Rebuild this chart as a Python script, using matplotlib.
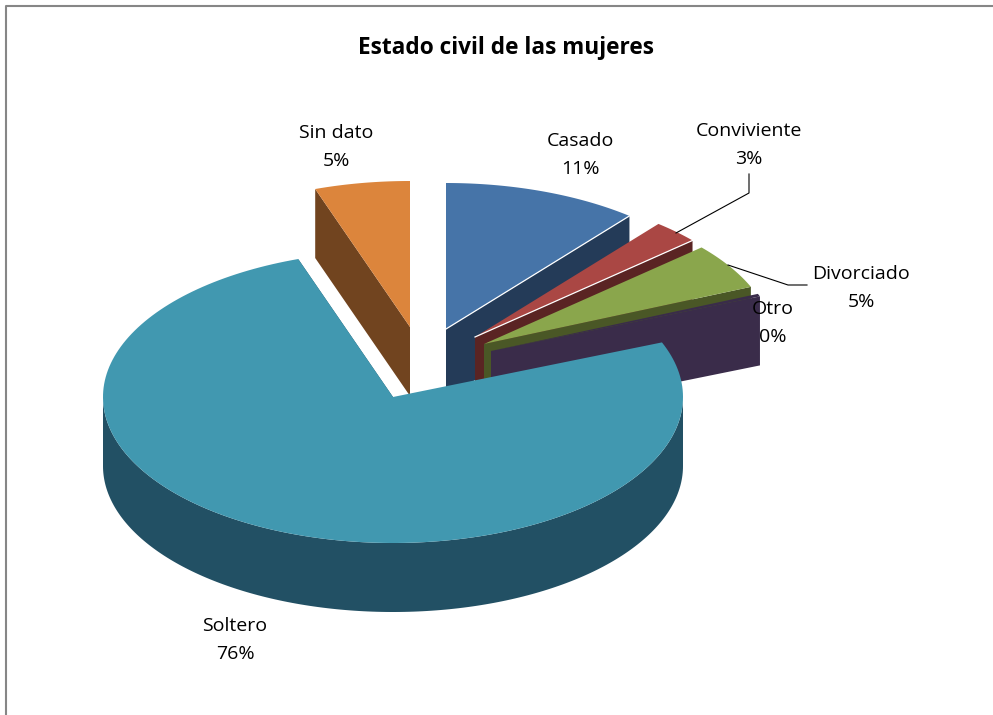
import numpy as np
import matplotlib
matplotlib.use("Agg")
import matplotlib.pyplot as plt

# data
labels = ["Casado", "Conviviente", "Divorciado", "Otro", "Soltero", "Sin dato"]
values = [10.9, 2.6, 5.1, 0.3, 75.8, 5.3]

top_colors = ["#4674A8", "#AA4744", "#8AA64C", "#3A2C4A", "#4198B0", "#DC853C"]
side_colors = ["#243B58", "#5A2423", "#4A5726", "#3A2C4A", "#225064", "#71441F"]

# slice apex in pixels (each slice is pulled out on its own)
centers = [(446, 329), (475, 337), (484, 344), (491, 351), (393, 397), (410, 327)]
label_pos = [(580, 155), (749, 145), (861, 288), (773, 323), (235, 640), (336, 147)]

RX, RY, DEPTH = 290, 146, 69

plt.rcParams["font.family"] = ["Open Sans", "DejaVu Sans"]

fig = plt.figure(figsize=(9.93, 7.15), dpi=100)
ax = fig.add_axes([0, 0, 1, 1])
ax.set_xlim(0, 993)
ax.set_ylim(715, 0)
ax.axis("off")

# chart border, only top and left fall inside the picture
ax.plot([5.5, 5.5, 993], [715, 5.5, 5.5], color="#868686", lw=1.5)


def arc(cx, cy, a0, a1):
    t = np.radians(np.linspace(a0, a1, 200))
    return cx + RX * np.cos(t), cy - RY * np.sin(t)


# start angles, going clockwise from the top
angle = 90.0
spans = []
for v in values:
    spans.append((angle, angle - v * 3.6))
    angle -= v * 3.6


def draw_slice(i):
    cx, cy = centers[i]
    a0, a1 = spans[i]
    x, y = arc(cx, cy, a0, a1)

    if labels[i] == "Sin dato":
        # cut face on the start side
        ax.fill([cx, x[0], x[0], cx], [cy, y[0], y[0] + DEPTH, cy + DEPTH],
                color=side_colors[i], lw=0)
    else:
        ax.fill([cx, x[-1], x[-1], cx], [cy, y[-1], y[-1] + DEPTH, cy + DEPTH],
                color=side_colors[i], lw=0)

    # outer wall, only the front half shows
    lo, hi = max(a1, -180), min(a0, 0)
    if hi > lo:
        wx, wy = arc(cx, cy, lo, hi)
        ax.fill(np.r_[wx, wx[::-1]], np.r_[wy, wy[::-1] + DEPTH], color=side_colors[i], lw=0)

    ax.fill(np.r_[cx, x], np.r_[cy, y], color=top_colors[i], lw=0)

    if labels[i] in ("Casado", "Conviviente"):
        ax.plot([cx, x[-1]], [cy, y[-1]], color="white", lw=0.9)


for i in [5, 0, 1, 2, 3, 4]:
    draw_slice(i)

# leader lines
ax.plot([676, 749, 749], [233, 193, 174], color="black", lw=0.8)
ax.plot([728, 788, 807], [265, 285, 285], color="black", lw=0.8)

for name, v, (lx, ly) in zip(labels, values, label_pos):
    ax.text(lx, ly, f"{name}\n{round(v)}%", ha="center", va="center",
            fontsize=14, linespacing=1.76, color="black")

ax.text(506, 48, "Estado civil de las mujeres", ha="center", va="center",
        fontsize=16.3, fontweight="bold", color="black")

fig.savefig("out.png", dpi=100)
